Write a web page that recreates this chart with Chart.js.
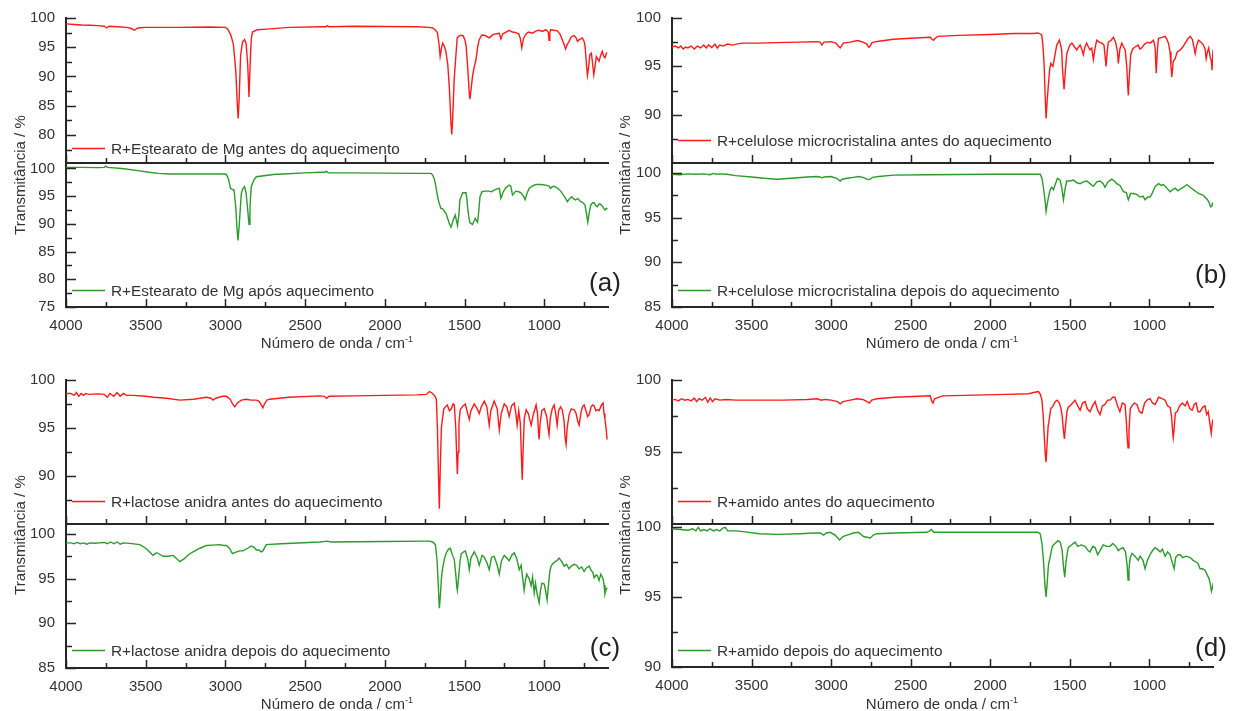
<!DOCTYPE html>
<html>
<head>
<meta charset="utf-8">
<script src="https://cdn.jsdelivr.net/npm/chart.js@4.4.0/dist/chart.umd.min.js"></script>
<style>
  body { margin: 0; background: #fff; }
  #fig { position: relative; width: 1242px; height: 711px; overflow: hidden;
         font-family: 'Liberation Sans', Arial, sans-serif; color: #333; }
  #fig canvas { position: absolute; }
  .ytitle { position: absolute; font-size: 15px; white-space: nowrap;
            transform: translate(-50%, -50%) rotate(-90deg); }
  .xtitle { position: absolute; font-size: 15px; white-space: nowrap;
            transform: translate(-50%, -50%); }
  .xtitle sup { font-size: 9px; vertical-align: 6px; }
  .tag { position: absolute; font-size: 26px; transform: translate(-50%, -50%); color: #222; }
</style>
</head>
<body>
<div id="fig"></div>
<script>
// x axis (wavenumber, cm-1), shared by every subplot
const xTickLabels = [4000, 3500, 3000, 2500, 2000, 1500, 1000];
const X_MIN = 600, X_MAX = 4000;

// y tick labels per subplot
const yTicksATop = [80, 85, 90, 95, 100];
const yTicksABottom = [75, 80, 85, 90, 95, 100];
const yTicksBCTop = [90, 95, 100];
const yTicksBCBottom = [85, 90, 95, 100];
const yTicksDTop = [95, 100];
const yTicksDBottom = [90, 95, 100];

// legend texts
const aLabels = ['R+Estearato de Mg antes do aquecimento', 'R+Estearato de Mg após aquecimento'];
const bLabels = ['R+celulose microcristalina antes do aquecimento', 'R+celulose microcristalina depois do aquecimento'];
const cLabels = ['R+lactose anidra antes do aquecimento', 'R+lactose anidra depois do aquecimento'];
const dLabels = ['R+amido antes do aquecimento', 'R+amido depois do aquecimento'];

// spectra: [wavenumber, transmittance %]
const aBefore = [
  [4000, 99.0], [3950, 98.9], [3900, 98.8], [3850, 98.75], [3800, 98.7], [3760, 98.6], [3745, 98.3], [3730, 98.6],
  [3680, 98.5], [3620, 98.4], [3590, 98.2], [3570, 97.9], [3550, 98.3], [3500, 98.4], [3300, 98.4], [3100, 98.45],
  [3000, 98.4], [2985, 98.1], [2968, 97.2], [2960, 96.5], [2950, 95.5], [2935, 91.0], [2925, 85.0], [2920, 82.8],
  [2914, 86.0], [2905, 93.5], [2893, 95.9], [2880, 96.3], [2870, 95.6], [2860, 92.0], [2852, 86.5], [2845, 92.0],
  [2838, 96.4], [2830, 97.6], [2800, 98.0], [2740, 98.1], [2600, 98.4], [2400, 98.5], [2370, 98.5], [2360, 98.7],
  [2350, 98.5], [2200, 98.6], [2000, 98.55], [1800, 98.5], [1720, 98.4], [1700, 98.3], [1685, 98.0], [1670, 97.5],
  [1660, 95.5], [1653, 93.4], [1645, 94.8], [1637, 95.7], [1627, 95.2], [1617, 94.3], [1605, 92.0], [1595, 88.0],
  [1585, 82.0], [1580, 80.1], [1574, 83.0], [1565, 89.5], [1556, 92.9], [1546, 96.6], [1530, 97.0], [1510, 97.0],
  [1498, 96.3], [1490, 95.2], [1480, 91.5], [1470, 87.0], [1466, 86.1], [1458, 88.0], [1450, 90.0], [1440, 91.5],
  [1428, 92.9], [1418, 95.0], [1408, 96.3], [1392, 97.1], [1370, 97.0], [1345, 96.6], [1320, 97.2], [1300, 97.3],
  [1282, 97.4], [1272, 96.4], [1260, 97.3], [1240, 97.6], [1220, 97.9], [1200, 97.6], [1178, 97.5], [1160, 97.3],
  [1150, 96.5], [1141, 94.9], [1130, 96.5], [1116, 97.2], [1100, 97.6], [1074, 97.4], [1050, 97.8], [1032, 97.9],
  [1010, 97.7], [990, 98.0], [975, 97.6], [970, 96.2], [965, 97.5], [960, 98.0], [940, 97.9], [918, 97.8],
  [900, 97.2], [887, 96.3], [876, 95.5], [866, 94.7], [855, 95.5], [844, 96.0], [830, 96.8], [812, 97.0],
  [800, 96.6], [792, 96.0], [780, 96.3], [761, 96.6], [750, 96.0], [744, 95.2], [735, 92.0], [729, 90.2],
  [722, 91.5], [714, 93.7], [704, 94.0], [696, 92.0], [689, 90.3], [681, 91.8], [673, 93.4], [665, 93.0],
  [656, 92.6], [646, 93.6], [636, 94.3], [628, 93.5], [619, 93.2], [610, 94.0], [604, 94.0]
];
const aAfter = [
  [4000, 100.2], [3900, 100.2], [3800, 100.15], [3760, 100.2], [3750, 100.4], [3740, 100.2], [3650, 100.0], [3550, 99.6],
  [3480, 99.3], [3420, 99.1], [3350, 99.0], [3200, 99.0], [3000, 99.0], [2994, 98.9], [2980, 98.0], [2968, 96.4],
  [2955, 96.2], [2946, 96.1], [2935, 93.0], [2927, 89.0], [2921, 87.0], [2914, 89.5], [2905, 93.5], [2900, 95.5],
  [2890, 96.4], [2880, 96.7], [2870, 95.5], [2860, 92.5], [2852, 89.9], [2846, 93.0], [2838, 96.7], [2820, 98.0],
  [2806, 98.5], [2700, 98.9], [2640, 99.0], [2500, 99.2], [2400, 99.3], [2375, 99.3], [2367, 99.5], [2355, 99.2],
  [2200, 99.2], [2000, 99.15], [1800, 99.1], [1710, 99.1], [1700, 98.8], [1690, 98.2], [1680, 96.8], [1669, 94.9],
  [1658, 93.6], [1648, 92.8], [1637, 92.7], [1627, 92.3], [1615, 91.8], [1606, 91.0], [1595, 90.0], [1585, 89.4],
  [1578, 90.0], [1571, 90.7], [1558, 91.6], [1550, 90.5], [1544, 89.7], [1536, 91.5], [1529, 94.3], [1512, 95.6],
  [1491, 95.6], [1485, 94.5], [1481, 93.1], [1472, 91.0], [1466, 90.2], [1450, 89.9], [1440, 90.5], [1433, 91.0],
  [1425, 90.6], [1418, 90.3], [1410, 92.5], [1403, 94.9], [1391, 95.8], [1370, 95.9], [1346, 95.9], [1330, 95.8],
  [1314, 96.1], [1295, 96.3], [1282, 96.4], [1272, 94.6], [1257, 95.8], [1240, 96.5], [1220, 97.0], [1210, 96.8],
  [1199, 95.2], [1178, 95.9], [1160, 95.8], [1147, 95.6], [1130, 95.0], [1120, 94.4], [1108, 95.5], [1095, 96.4],
  [1075, 96.8], [1053, 97.1], [1020, 97.1], [990, 97.0], [970, 96.8], [960, 96.4], [950, 96.7], [939, 96.8],
  [915, 96.4], [900, 96.0], [887, 95.5], [870, 94.8], [855, 94.0], [840, 94.6], [828, 94.9], [815, 94.5],
  [803, 94.3], [790, 94.6], [772, 94.0], [760, 93.9], [744, 93.4], [736, 92.0], [727, 90.3], [718, 92.0],
  [708, 93.4], [697, 93.8], [687, 93.8], [677, 93.3], [667, 93.1], [656, 93.6], [646, 93.5], [635, 93.2],
  [627, 92.8], [619, 92.5], [610, 92.8], [604, 92.6]
];
const bBefore = [
  [4000, 97.0], [3980, 97.1], [3960, 96.9], [3945, 97.1], [3930, 96.8], [3915, 97.0], [3900, 96.9], [3880, 97.1],
  [3860, 96.8], [3840, 97.1], [3820, 96.9], [3800, 97.2], [3785, 96.9], [3770, 97.2], [3750, 96.95], [3730, 97.3],
  [3715, 96.9], [3700, 97.2], [3680, 97.1], [3650, 97.3], [3620, 97.2], [3580, 97.35], [3552, 97.4], [3450, 97.4],
  [3350, 97.45], [3200, 97.5], [3089, 97.55], [3070, 97.5], [3058, 97.2], [3045, 97.5], [3000, 97.55], [2970, 97.4],
  [2955, 97.1], [2943, 96.9], [2935, 97.1], [2924, 97.4], [2880, 97.5], [2840, 97.65], [2828, 97.65], [2800, 97.5],
  [2775, 97.3], [2765, 97.0], [2759, 97.0], [2745, 97.4], [2734, 97.5], [2700, 97.6], [2608, 97.8], [2500, 97.9],
  [2377, 98.0], [2365, 97.8], [2357, 97.7], [2345, 97.9], [2330, 98.1], [2200, 98.2], [2000, 98.3], [1850, 98.4],
  [1730, 98.4], [1700, 98.45], [1680, 98.3], [1676, 98.2], [1668, 97.0], [1661, 95.0], [1655, 92.0], [1649, 89.6],
  [1642, 91.5], [1634, 93.2], [1626, 94.8], [1619, 95.3], [1612, 95.1], [1606, 95.0], [1595, 96.0], [1582, 97.2],
  [1565, 97.7], [1551, 96.7], [1545, 94.5], [1536, 92.6], [1528, 94.5], [1519, 96.3], [1500, 97.2], [1487, 97.4],
  [1470, 97.0], [1456, 96.7], [1445, 97.0], [1435, 97.2], [1425, 96.8], [1415, 96.2], [1405, 97.0], [1394, 97.4],
  [1383, 97.0], [1373, 96.7], [1362, 96.9], [1352, 95.7], [1342, 96.8], [1331, 97.7], [1315, 97.5], [1299, 97.4],
  [1285, 97.2], [1278, 96.0], [1272, 95.0], [1265, 96.5], [1258, 97.5], [1240, 97.7], [1226, 98.0], [1212, 97.5],
  [1200, 96.5], [1195, 95.3], [1185, 96.8], [1173, 97.4], [1162, 97.0], [1152, 96.7], [1142, 95.0], [1136, 93.0],
  [1132, 92.0], [1126, 94.0], [1117, 96.2], [1105, 96.8], [1090, 97.0], [1070, 97.2], [1060, 96.8], [1048, 96.9],
  [1030, 97.3], [1010, 97.5], [995, 97.4], [974, 97.7], [964, 97.0], [957, 94.3], [950, 96.5], [943, 97.9],
  [920, 98.0], [901, 98.1], [890, 97.8], [880, 97.4], [870, 96.5], [864, 95.0], [859, 93.9], [850, 95.5],
  [838, 95.8], [825, 96.5], [806, 96.7], [790, 97.0], [775, 97.4], [760, 97.8], [743, 98.1], [730, 97.8],
  [720, 97.0], [712, 96.3], [702, 97.2], [691, 97.7], [675, 97.5], [660, 97.2], [650, 96.8], [643, 95.8],
  [635, 96.5], [627, 96.9], [618, 96.0], [610, 95.5], [606, 94.6], [600, 96.7]
];
const bAfter = [
  [4000, 99.85], [3950, 99.8], [3900, 99.9], [3850, 99.85], [3800, 99.9], [3760, 99.8], [3740, 99.95], [3720, 99.85],
  [3700, 99.9], [3655, 99.85], [3600, 99.7], [3500, 99.55], [3420, 99.4], [3340, 99.3], [3250, 99.4], [3150, 99.55],
  [3089, 99.6], [3070, 99.55], [3058, 99.45], [3045, 99.55], [3000, 99.6], [2965, 99.4], [2943, 99.1], [2930, 99.3],
  [2900, 99.4], [2860, 99.5], [2828, 99.6], [2800, 99.5], [2775, 99.3], [2765, 99.25], [2755, 99.3], [2740, 99.5],
  [2700, 99.6], [2608, 99.75], [2400, 99.8], [2000, 99.85], [1750, 99.85], [1686, 99.85], [1675, 99.4], [1666, 98.4],
  [1656, 97.0], [1649, 95.7], [1642, 96.5], [1634, 97.3], [1622, 98.2], [1613, 98.4], [1603, 98.1], [1590, 98.8],
  [1578, 99.4], [1561, 99.2], [1550, 98.3], [1540, 97.0], [1530, 98.2], [1519, 99.1], [1500, 99.1], [1477, 99.2],
  [1455, 98.9], [1435, 98.8], [1415, 99.0], [1394, 99.1], [1373, 98.8], [1352, 98.5], [1330, 99.0], [1310, 99.1],
  [1290, 98.8], [1279, 98.4], [1260, 99.0], [1237, 99.3], [1220, 99.1], [1205, 98.8], [1185, 98.6], [1163, 97.9],
  [1145, 97.8], [1132, 97.0], [1118, 97.7], [1100, 97.7], [1080, 97.6], [1058, 97.3], [1040, 97.4], [1027, 97.0],
  [1010, 97.3], [995, 97.3], [980, 97.8], [963, 98.5], [943, 98.8], [925, 98.6], [912, 98.7], [890, 98.3],
  [870, 97.9], [855, 98.1], [838, 98.3], [820, 98.0], [806, 98.2], [785, 98.4], [764, 98.7], [745, 98.4],
  [722, 98.1], [705, 97.9], [691, 97.7], [675, 97.6], [660, 97.5], [645, 97.2], [635, 97.0], [625, 96.7],
  [614, 96.2], [607, 96.3], [601, 96.7]
];
const cBefore = [
  [4000, 98.6], [3970, 98.6], [3950, 98.4], [3935, 98.7], [3920, 98.3], [3905, 98.6], [3890, 98.4], [3875, 98.6],
  [3860, 98.5], [3800, 98.55], [3760, 98.5], [3740, 98.2], [3725, 98.6], [3700, 98.3], [3680, 98.7], [3660, 98.3],
  [3640, 98.6], [3620, 98.4], [3580, 98.4], [3500, 98.3], [3450, 98.2], [3370, 98.1], [3286, 97.9], [3200, 98.0],
  [3120, 98.2], [3090, 98.1], [3078, 97.9], [3060, 98.1], [3020, 98.3], [2994, 98.3], [2970, 98.0], [2955, 97.5],
  [2942, 97.2], [2925, 97.6], [2900, 97.9], [2869, 98.0], [2840, 97.9], [2806, 97.9], [2790, 97.8], [2775, 97.4],
  [2765, 97.1], [2755, 97.5], [2740, 97.9], [2723, 98.0], [2600, 98.2], [2410, 98.35], [2380, 98.3], [2365, 98.1],
  [2350, 98.3], [2200, 98.35], [2000, 98.4], [1800, 98.45], [1740, 98.5], [1720, 98.8], [1700, 98.6], [1685, 98.3],
  [1677, 98.0], [1670, 95.0], [1664, 90.5], [1658, 86.6], [1652, 91.0], [1645, 95.0], [1639, 95.9], [1630, 97.0],
  [1620, 97.2], [1608, 97.4], [1595, 96.8], [1583, 97.0], [1572, 97.5], [1564, 97.4], [1555, 95.0], [1548, 91.5],
  [1545, 90.2], [1540, 92.5], [1535, 95.5], [1527, 96.9], [1510, 97.3], [1495, 97.5], [1480, 96.5], [1470, 95.9],
  [1460, 96.8], [1439, 97.5], [1420, 97.0], [1408, 96.5], [1395, 97.2], [1376, 97.8], [1360, 97.2], [1345, 95.3],
  [1335, 96.8], [1314, 97.8], [1295, 97.0], [1282, 94.8], [1270, 96.5], [1251, 97.5], [1235, 97.2], [1220, 96.2],
  [1205, 97.3], [1188, 97.6], [1178, 96.5], [1170, 95.3], [1160, 96.8], [1150, 95.5], [1143, 92.0], [1138, 89.6],
  [1133, 92.5], [1125, 96.0], [1113, 96.9], [1100, 96.5], [1090, 95.8], [1082, 95.3], [1070, 96.3], [1051, 97.4],
  [1042, 96.5], [1036, 94.5], [1032, 93.8], [1026, 95.5], [1015, 96.8], [1000, 97.0], [985, 96.2], [976, 95.0],
  [970, 94.3], [962, 96.0], [950, 97.0], [938, 97.4], [928, 96.5], [919, 95.3], [910, 96.8], [898, 97.2],
  [887, 96.9], [876, 95.8], [869, 94.0], [863, 93.3], [856, 95.0], [844, 96.4], [830, 97.0], [812, 96.9],
  [800, 96.5], [790, 95.7], [781, 95.3], [770, 96.6], [760, 97.2], [750, 97.4], [740, 96.9], [728, 96.2],
  [718, 96.4], [706, 97.2], [696, 97.4], [687, 97.3], [676, 96.8], [666, 96.9], [656, 96.8], [646, 97.2],
  [637, 97.5], [631, 97.6], [625, 96.5], [619, 95.9], [612, 95.0], [606, 93.8]
];
const cAfter = [
  [4000, 99.0], [3970, 99.0], [3950, 98.9], [3930, 99.05], [3910, 98.9], [3890, 99.0], [3870, 98.85], [3850, 99.0],
  [3820, 98.95], [3790, 99.0], [3760, 99.05], [3740, 98.9], [3720, 99.1], [3700, 98.9], [3680, 99.1], [3660, 98.85],
  [3640, 99.0], [3600, 98.95], [3537, 98.8], [3500, 98.4], [3470, 97.9], [3455, 97.6], [3440, 97.8], [3432, 97.9],
  [3410, 97.7], [3390, 97.5], [3360, 97.5], [3328, 97.6], [3310, 97.3], [3286, 96.9], [3260, 97.2], [3230, 97.7],
  [3203, 98.0], [3160, 98.4], [3120, 98.7], [3080, 98.75], [3036, 98.8], [3010, 98.7], [2994, 98.7], [2975, 98.4],
  [2956, 97.8], [2930, 98.0], [2910, 98.1], [2890, 98.1], [2860, 98.4], [2838, 98.65], [2820, 98.5], [2806, 98.2],
  [2790, 98.2], [2775, 98.0], [2765, 98.1], [2744, 98.8], [2650, 98.9], [2410, 99.1], [2360, 99.2], [2340, 99.1],
  [2000, 99.15], [1750, 99.2], [1720, 99.2], [1700, 99.1], [1683, 98.8], [1672, 97.0], [1664, 94.0], [1658, 91.7],
  [1652, 93.0], [1645, 95.0], [1639, 96.0], [1625, 97.3], [1614, 97.9], [1600, 98.3], [1589, 98.4], [1575, 97.6],
  [1564, 97.1], [1555, 95.5], [1548, 94.0], [1545, 93.7], [1538, 95.0], [1528, 97.0], [1520, 97.8], [1505, 98.0],
  [1495, 98.1], [1480, 97.2], [1470, 96.0], [1460, 97.3], [1439, 98.0], [1420, 97.3], [1408, 96.5], [1390, 97.6],
  [1376, 97.4], [1360, 96.8], [1345, 96.0], [1330, 97.4], [1314, 97.5], [1295, 96.5], [1282, 95.5], [1268, 97.0],
  [1251, 97.6], [1235, 97.3], [1220, 97.0], [1205, 97.6], [1188, 97.9], [1172, 97.2], [1157, 96.0], [1145, 96.5],
  [1135, 95.0], [1126, 93.7], [1118, 94.8], [1110, 95.5], [1095, 95.0], [1082, 94.2], [1073, 95.2], [1063, 93.4],
  [1055, 94.5], [1045, 93.3], [1038, 92.8], [1032, 92.3], [1025, 93.5], [1015, 94.5], [1000, 94.4], [990, 93.5],
  [982, 92.6], [975, 94.0], [965, 95.8], [957, 96.4], [945, 96.7], [932, 96.9], [920, 97.0], [907, 97.3],
  [890, 96.9], [875, 96.4], [860, 96.6], [844, 96.1], [830, 96.4], [812, 96.6], [797, 96.5], [781, 96.1],
  [765, 96.3], [750, 95.8], [735, 96.2], [718, 96.4], [705, 95.9], [695, 95.7], [687, 95.1], [675, 95.4],
  [666, 95.3], [656, 94.8], [645, 95.5], [631, 95.0], [625, 94.3], [619, 93.3], [612, 93.8], [606, 94.0]
];
const dBefore = [
  [4000, 98.6], [3980, 98.65], [3960, 98.55], [3940, 98.7], [3920, 98.6], [3900, 98.65], [3880, 98.55], [3860, 98.75],
  [3845, 98.5], [3830, 98.7], [3810, 98.6], [3790, 98.8], [3775, 98.45], [3760, 98.75], [3745, 98.5], [3730, 98.7],
  [3700, 98.6], [3660, 98.65], [3600, 98.6], [3552, 98.6], [3450, 98.6], [3300, 98.6], [3150, 98.65], [3089, 98.7],
  [3060, 98.6], [3040, 98.65], [3000, 98.6], [2960, 98.5], [2943, 98.35], [2925, 98.5], [2880, 98.6], [2838, 98.7],
  [2800, 98.65], [2775, 98.5], [2759, 98.4], [2745, 98.6], [2712, 98.7], [2600, 98.8], [2377, 98.9], [2370, 98.6],
  [2360, 98.4], [2350, 98.7], [2300, 98.9], [2100, 98.95], [1900, 99.0], [1760, 99.05], [1720, 99.15], [1697, 99.2],
  [1685, 99.0], [1675, 98.6], [1667, 97.5], [1660, 96.0], [1654, 94.8], [1649, 94.3], [1643, 95.5], [1636, 96.8],
  [1630, 97.2], [1620, 98.0], [1605, 98.2], [1592, 98.5], [1580, 98.6], [1565, 98.4], [1555, 98.0], [1548, 97.5],
  [1540, 96.5], [1534, 95.9], [1527, 96.8], [1518, 97.8], [1510, 98.1], [1490, 98.3], [1467, 98.6], [1450, 98.2],
  [1435, 97.9], [1420, 98.4], [1404, 98.5], [1390, 98.0], [1373, 97.8], [1357, 98.2], [1341, 98.5], [1325, 97.9],
  [1310, 97.6], [1295, 98.2], [1279, 98.3], [1262, 98.6], [1247, 98.6], [1230, 98.8], [1216, 98.8], [1200, 98.2],
  [1185, 97.8], [1170, 98.4], [1153, 98.3], [1145, 97.2], [1138, 95.8], [1134, 95.3], [1128, 96.5], [1120, 98.0],
  [1109, 98.2], [1095, 98.4], [1078, 98.3], [1062, 97.8], [1046, 97.7], [1030, 98.4], [1015, 98.6], [996, 98.7],
  [980, 98.4], [964, 98.3], [950, 98.6], [943, 98.8], [920, 98.7], [901, 98.6], [885, 98.2], [869, 98.1],
  [860, 97.4], [852, 96.2], [850, 96.0], [845, 96.5], [837, 97.7], [825, 97.8], [810, 98.2], [793, 98.4],
  [775, 98.2], [762, 98.5], [745, 98.0], [731, 97.9], [718, 98.3], [706, 98.4], [694, 97.8], [681, 97.8],
  [665, 98.1], [650, 98.2], [640, 97.6], [630, 97.8], [620, 97.0], [611, 96.3], [605, 97.0], [598, 97.3]
];
const dAfter = [
  [4000, 99.85], [3950, 99.8], [3900, 99.75], [3870, 99.85], [3850, 99.7], [3835, 99.95], [3820, 99.7], [3800, 99.8],
  [3780, 99.7], [3760, 99.85], [3740, 99.7], [3720, 99.8], [3700, 99.7], [3680, 99.9], [3665, 99.95], [3650, 99.7],
  [3600, 99.7], [3552, 99.65], [3450, 99.5], [3340, 99.45], [3200, 99.5], [3100, 99.55], [3068, 99.55], [3047, 99.4],
  [3030, 99.55], [3006, 99.6], [2975, 99.4], [2947, 99.05], [2925, 99.3], [2901, 99.4], [2860, 99.55], [2828, 99.6],
  [2796, 99.3], [2775, 99.25], [2754, 99.2], [2735, 99.4], [2712, 99.5], [2600, 99.55], [2400, 99.6], [2380, 99.7],
  [2370, 99.8], [2355, 99.6], [2200, 99.6], [2000, 99.6], [1800, 99.6], [1700, 99.6], [1686, 99.5], [1675, 98.8],
  [1665, 97.5], [1656, 95.8], [1649, 95.0], [1642, 96.0], [1634, 97.3], [1624, 97.8], [1610, 98.6], [1593, 98.8],
  [1574, 99.0], [1560, 98.9], [1548, 98.3], [1540, 97.2], [1532, 96.4], [1524, 97.5], [1510, 98.5], [1490, 98.7],
  [1467, 98.9], [1450, 98.6], [1430, 98.7], [1404, 98.6], [1385, 98.3], [1373, 98.2], [1355, 98.6], [1340, 98.5],
  [1325, 98.0], [1310, 98.3], [1290, 98.7], [1270, 98.6], [1247, 98.6], [1230, 98.8], [1210, 98.6], [1195, 98.3],
  [1185, 98.4], [1165, 98.5], [1150, 98.2], [1140, 97.3], [1134, 96.2], [1128, 97.0], [1120, 97.8], [1109, 98.1],
  [1090, 97.9], [1070, 97.6], [1058, 97.9], [1040, 97.6], [1027, 97.0], [1012, 97.6], [996, 98.0], [980, 98.3],
  [964, 98.5], [950, 98.4], [932, 98.2], [918, 98.4], [901, 97.9], [885, 98.2], [869, 98.0], [855, 97.4],
  [844, 97.0], [835, 97.8], [820, 98.0], [806, 98.0], [790, 97.8], [770, 97.9], [743, 97.8], [725, 97.6],
  [710, 97.5], [695, 97.4], [681, 97.0], [665, 97.0], [650, 96.9], [638, 96.6], [625, 96.3], [617, 95.9],
  [610, 95.4], [605, 95.6], [598, 96.0]
];

const RED = '#ff1a1a';
const GREEN = '#2b9b2b';
const AXIS = '#262626';
const TEXT = '#333333';
const FONT = "'Liberation Sans', Arial, sans-serif";

// one entry per stacked subplot; area = chart area [left, top, right, bottom] in page pixels
const subplots = [
  { area: [66, 18, 608, 163], series: aBefore, label: aLabels[0], color: RED, yRange: [75.2, 100], yTicks: yTicksATop, xLabels: false, legendUp: 15 },
  { area: [66, 164, 608, 307], series: aAfter, label: aLabels[1], color: GREEN, yRange: [75, 100.8], yTicks: yTicksABottom, xLabels: true, legendUp: 17 },
  { area: [672, 18, 1213, 163], series: bBefore, label: bLabels[0], color: RED, yRange: [85, 100], yTicks: yTicksBCTop, xLabels: false, legendUp: 23 },
  { area: [672, 164, 1213, 307], series: bAfter, label: bLabels[1], color: GREEN, yRange: [85, 101], yTicks: yTicksBCBottom, xLabels: true, legendUp: 17 },
  { area: [66, 380, 608, 524], series: cBefore, label: cLabels[0], color: RED, yRange: [85, 100], yTicks: yTicksBCTop, xLabels: false, legendUp: 23 },
  { area: [66, 525, 608, 668], series: cAfter, label: cLabels[1], color: GREEN, yRange: [85, 101], yTicks: yTicksBCBottom, xLabels: true, legendUp: 18 },
  { area: [672, 380, 1213, 524], series: dBefore, label: dLabels[0], color: RED, yRange: [90, 100], yTicks: yTicksDTop, xLabels: false, legendUp: 23 },
  { area: [672, 525, 1213, 667], series: dAfter, label: dLabels[1], color: GREEN, yRange: [90, 100.12], yTicks: yTicksDBottom, xLabels: true, legendUp: 17 }
];

// inward major/minor tick marks on the left and bottom axes
const inwardTicks = {
  id: 'inwardTicks',
  afterDraw(chart) {
    const { ctx, chartArea: ca, scales: { x, y } } = chart;
    ctx.save();
    ctx.strokeStyle = AXIS;
    ctx.lineWidth = 1.5;
    ctx.beginPath();
    xTickLabels.forEach(v => {
      const px = Math.round(x.getPixelForValue(v)) + 0.5;
      ctx.moveTo(px, ca.bottom);
      ctx.lineTo(px, ca.bottom - 8);
      const m = v - 250;
      if (m > X_MIN) {
        const pm = Math.round(x.getPixelForValue(m)) + 0.5;
        ctx.moveTo(pm, ca.bottom);
        ctx.lineTo(pm, ca.bottom - 5);
      }
    });
    y.ticks.forEach(t => {
      const py = Math.round(y.getPixelForValue(t.value)) + 0.5;
      ctx.moveTo(ca.left, py);
      ctx.lineTo(ca.left + 10, py);
      const m = t.value - 2.5;
      if (m > y.min + 0.3) {
        const pm = Math.round(y.getPixelForValue(m)) + 0.5;
        ctx.moveTo(ca.left, pm);
        ctx.lineTo(ca.left + 6, pm);
      }
    });
    ctx.stroke();
    ctx.restore();
  }
};

// legend entry drawn inside the plot, bottom-left
const insideLegend = {
  id: 'insideLegend',
  afterDraw(chart, args, opts) {
    const { ctx, chartArea: ca } = chart;
    const ds = chart.data.datasets[0];
    const yy = Math.round(ca.bottom - opts.up) + 0.5;
    ctx.save();
    ctx.strokeStyle = ds.borderColor;
    ctx.lineWidth = 1.6;
    ctx.beginPath();
    ctx.moveTo(ca.left + 6, yy);
    ctx.lineTo(ca.left + 39, yy);
    ctx.stroke();
    ctx.fillStyle = TEXT;
    ctx.font = '15.4px ' + FONT;
    ctx.textBaseline = 'middle';
    ctx.fillText(ds.label, ca.left + 45, yy + 1);
    ctx.restore();
  }
};

const fig = document.getElementById('fig');

function makeChart(sp) {
  const [l, t, r, b] = sp.area;
  // top padding must exceed half a label height plus tick padding, or Chart.js pushes the area down
  const padL = 60, padT = 26, padR = 20, xH = 44;
  const cl = l - padL, ct = t - padT;
  const w = r + padR - cl, h = b + xH - ct;
  const cv = document.createElement('canvas');
  cv.width = w; cv.height = h;
  cv.style.left = cl + 'px'; cv.style.top = ct + 'px';
  cv.style.width = w + 'px'; cv.style.height = h + 'px';
  fig.appendChild(cv);

  new Chart(cv, {
    type: 'line',
    data: {
      datasets: [{
        label: sp.label,
        data: sp.series.map(([wn, tr]) => ({ x: wn, y: tr })),
        borderColor: sp.color,
        borderWidth: 1.4,
        pointRadius: 0,
        tension: 0,
        fill: false
      }]
    },
    options: {
      responsive: false,
      animation: false,
      devicePixelRatio: 1,
      layout: { padding: { left: 0, top: padT, right: padR, bottom: 0 } },
      plugins: {
        legend: { display: false },
        tooltip: { enabled: false },
        insideLegend: { up: sp.legendUp }
      },
      scales: {
        x: {
          type: 'linear',
          reverse: true,
          min: X_MIN,
          max: X_MAX,
          afterBuildTicks: s => { s.ticks = xTickLabels.map(v => ({ value: v })); },
          afterFit: s => { s.height = xH; },
          grid: { display: false, drawTicks: false },
          border: { display: true, color: AXIS, width: 2 },
          ticks: {
            display: sp.xLabels, padding: 10, color: TEXT, maxRotation: 0, autoSkip: false,
            font: { family: FONT, size: 15 },
            callback: v => String(v)
          }
        },
        y: {
          type: 'linear',
          min: sp.yRange[0],
          max: sp.yRange[1],
          afterBuildTicks: s => { s.ticks = sp.yTicks.map(v => ({ value: v })); },
          afterFit: s => { s.width = padL; },
          grid: { display: false, drawTicks: false },
          border: { display: true, color: AXIS, width: 2 },
          ticks: {
            padding: 11, color: TEXT,
            font: { family: FONT, size: 15 },
            callback: v => String(v)
          }
        }
      }
    },
    plugins: [inwardTicks, insideLegend]
  });
}

subplots.forEach(makeChart);

// shared axis titles and panel tags
const panelText = [
  { yt: [19, 175], xt: [337, 342], tag: ['(a)', 605, 282] },
  { yt: [624, 175], xt: [942, 342], tag: ['(b)', 1211, 274] },
  { yt: [19, 535], xt: [337, 703], tag: ['(c)', 605, 647] },
  { yt: [624, 535], xt: [942, 703], tag: ['(d)', 1211, 647] }
];
panelText.forEach(p => {
  const yt = document.createElement('div');
  yt.className = 'ytitle';
  yt.style.left = p.yt[0] + 'px'; yt.style.top = p.yt[1] + 'px';
  yt.textContent = 'Transmitância / %';
  fig.appendChild(yt);
  const xt = document.createElement('div');
  xt.className = 'xtitle';
  xt.style.left = p.xt[0] + 'px'; xt.style.top = p.xt[1] + 'px';
  xt.innerHTML = 'Número de onda / cm<sup>-1</sup>';
  fig.appendChild(xt);
  const tg = document.createElement('div');
  tg.className = 'tag';
  tg.style.left = p.tag[1] + 'px'; tg.style.top = p.tag[2] + 'px';
  tg.textContent = p.tag[0];
  fig.appendChild(tg);
});
</script>
</body>
</html>
